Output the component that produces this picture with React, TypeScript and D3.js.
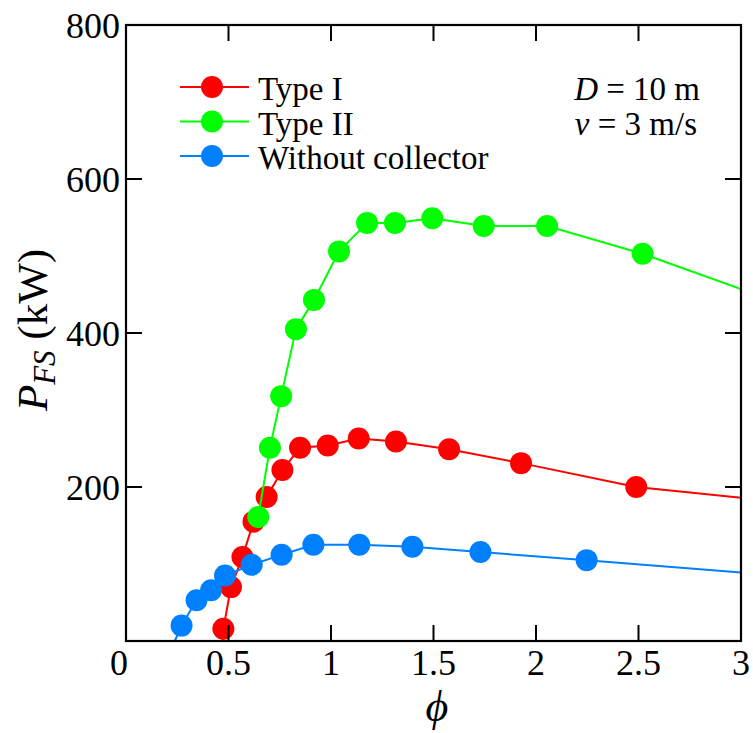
import React from "react";
import * as d3 from "d3";

const typeIPhi = [0.475, 0.512, 0.568, 0.622, 0.686, 0.763, 0.849, 0.984, 1.135, 1.317, 1.576, 1.927, 2.489];
const typeIP = [16, 70, 109, 155, 187, 222, 251, 254, 263, 259, 249, 231, 200];
const typeIEnds = { startPhi: 0.47, startP: 0, endPhi: 3, endP: 186 };

const typeIIPhi = [0.645, 0.702, 0.757, 0.829, 0.917, 1.039, 1.176, 1.312, 1.494, 1.745, 2.054, 2.52];
const typeIIP = [161, 251, 318, 405, 443, 506, 543, 543, 549, 539, 539, 503];
const typeIIEnds = { endPhi: 3, endP: 457 };

const noCollPhi = [0.271, 0.344, 0.415, 0.483, 0.613, 0.759, 0.914, 1.138, 1.397, 1.729, 2.247];
const noCollP = [20, 53, 66, 85, 99, 112, 125, 125, 122.5, 115.5, 105];
const noCollEnds = { startPhi: 0.238, startP: 0, endPhi: 3, endP: 89 };

const xTicks = [0, 0.5, 1, 1.5, 2, 2.5, 3];
const xTickLabels = ["0", "0.5", "1", "1.5", "2", "2.5", "3"];
const yTicks = [200, 400, 600, 800];
const yTickLabels = ["200", "400", "600", "800"];
const seriesNames = ["Type I", "Type II", "Without collector"];
const seriesColors = ["#ff0000", "#00ff00", "#0080ff"];

const W = 753, H = 733;
const x = d3.scaleLinear().domain([0, 3]).range([126, 741]);
const y = d3.scaleLinear().domain([0, 800]).range([641, 25]);
const FONT = "'Liberation Serif', 'Times New Roman', serif";

type Pt = [number, number];
const zip = (a: number[], b: number[]): Pt[] => a.map((v, i) => [v, b[i]]);

export default function App() {
  const line = d3.line<Pt>().x(d => x(d[0])).y(d => y(d[1]));
  const series = [
    { pts: zip(typeIPhi, typeIP), line: [[typeIEnds.startPhi, typeIEnds.startP] as Pt, ...zip(typeIPhi, typeIP), [typeIEnds.endPhi, typeIEnds.endP] as Pt] },
    { pts: zip(typeIIPhi, typeIIP), line: [...zip(typeIIPhi, typeIIP), [typeIIEnds.endPhi, typeIIEnds.endP] as Pt] },
    { pts: zip(noCollPhi, noCollP), line: [[noCollEnds.startPhi, noCollEnds.startP] as Pt, ...zip(noCollPhi, noCollP), [noCollEnds.endPhi, noCollEnds.endP] as Pt] },
  ];
  const r = 11;
  const tickLen = 16;
  const [x0, x1] = x.range();
  const [y0, y1] = y.range();
  return (
    <svg width={W} height={H} style={{ position: "absolute", left: 0, top: 0, background: "#fff", fontFamily: FONT }}>
      <rect width={W} height={H} fill="#fff" />
      <defs>
        <clipPath id="plot"><rect x={x0} y={y1} width={x1 - x0} height={y0 - y1} /></clipPath>
      </defs>
      {series.map((s, i) => (
        <g key={i}>
          <path d={line(s.line) || ""} fill="none" stroke={seriesColors[i]} strokeWidth={2} clipPath="url(#plot)" />
          {s.pts.map((p, j) => (
            <circle key={j} cx={x(p[0])} cy={y(p[1])} r={r} fill={seriesColors[i]} />
          ))}
        </g>
      ))}
      <rect x={x0} y={y1} width={x1 - x0} height={y0 - y1} fill="none" stroke="#000" strokeWidth={2.2} />
      {xTicks.slice(1, -1).map((t, i) => (
        <g key={i}>
          <line x1={x(t)} x2={x(t)} y1={y0} y2={y0 - tickLen} stroke="#000" strokeWidth={2} />
          <line x1={x(t)} x2={x(t)} y1={y1} y2={y1 + tickLen} stroke="#000" strokeWidth={2} />
        </g>
      ))}
      {xTicks.map((t, i) => (
        <text key={i} x={x(t) - (i === 0 ? 7 : 0)} y={675} fontSize={36} textAnchor="middle">{xTickLabels[i]}</text>
      ))}
      {yTicks.slice(0, -1).map((t, i) => (
        <g key={i}>
          <line x1={x0} x2={x0 + tickLen} y1={y(t)} y2={y(t)} stroke="#000" strokeWidth={2} />
          <line x1={x1} x2={x1 - tickLen} y1={y(t)} y2={y(t)} stroke="#000" strokeWidth={2} />
        </g>
      ))}
      {yTicks.map((t, i) => (
        <text key={i} x={120} y={y(t)} dy="0.35em" fontSize={36} textAnchor="end">{yTickLabels[i]}</text>
      ))}
      <text x={437} y={721} fontSize={44} fontStyle="italic" textAnchor="middle">ϕ</text>
      <text transform={`translate(47,${330}) rotate(-90)`} fontSize={43} textAnchor="middle">
        <tspan fontStyle="italic">P</tspan>
        <tspan fontStyle="italic" fontSize={31} dy={8}>FS</tspan>
        <tspan dy={-8}> (kW)</tspan>
      </text>
      {seriesNames.map((n, i) => {
        const ly = 87 + i * 34.5;
        return (
          <g key={i}>
            <line x1={180} x2={249} y1={ly} y2={ly} stroke={seriesColors[i]} strokeWidth={2} />
            <circle cx={212} cy={ly} r={r} fill={seriesColors[i]} />
            <text x={258} y={ly + 13} fontSize={33}>{n}</text>
          </g>
        );
      })}
      <text x={700} y={100} fontSize={33} textAnchor="end"><tspan fontStyle="italic">D</tspan> = 10 m</text>
      <text x={697} y={134.5} fontSize={33} textAnchor="end"><tspan fontStyle="italic">v</tspan> = 3 m/s</text>
    </svg>
  );
}
